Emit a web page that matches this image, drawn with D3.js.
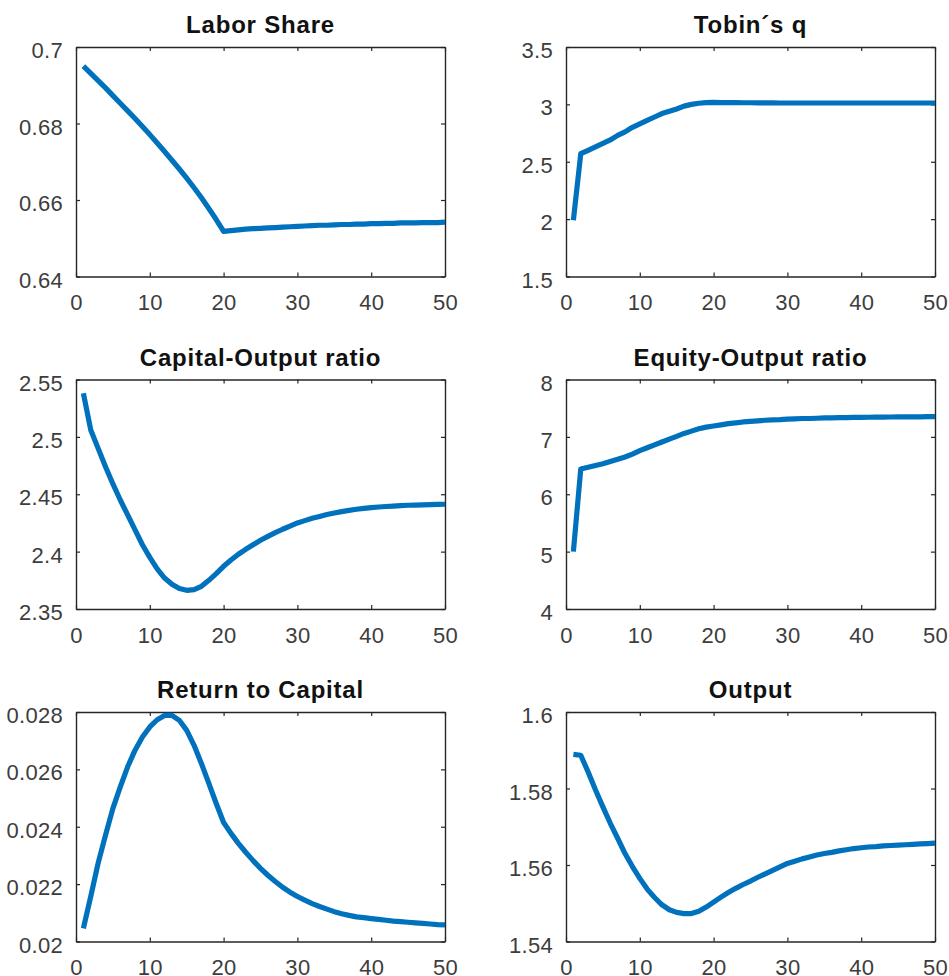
<!DOCTYPE html>
<html>
<head>
<meta charset="utf-8">
<script src="https://cdn.jsdelivr.net/npm/d3@7"></script>
<style>
  html, body { margin: 0; padding: 0; background: #fff; }
  svg { display: block; font-family: "Liberation Sans", Arial, Helvetica, sans-serif; }
</style>
</head>
<body>
<svg id="fig" width="949" height="976"></svg>
<script>
// Simulation periods
const periods = d3.range(1, 51);

// Series (one value per period)
const laborShare = [0.6950,0.6931,0.6912,0.6893,0.6873,0.6853,0.6833,0.6813,0.6792,0.6771,
  0.6749,0.6727,0.6704,0.6681,0.6657,0.6632,0.6606,0.6578,0.6549,0.6518,
  0.6520,0.6522,0.6524,0.6525,0.6526,0.6527,0.6528,0.6529,0.6530,0.6531,
  0.6532,0.6533,0.6534,0.6534,0.6535,0.6536,0.6536,0.6537,0.6537,0.6538,
  0.6538,0.6539,0.6539,0.6540,0.6540,0.6540,0.6541,0.6541,0.6541,0.6542];

const tobinsQ = [1.99,2.57,2.60,2.63,2.66,2.69,2.73,2.76,2.80,2.83,
  2.86,2.89,2.92,2.94,2.96,2.985,3.00,3.01,3.016,3.017,
  3.016,3.015,3.015,3.014,3.014,3.013,3.013,3.013,3.012,3.012,
  3.012,3.012,3.012,3.012,3.012,3.012,3.012,3.012,3.012,3.012,
  3.012,3.012,3.012,3.012,3.012,3.012,3.012,3.012,3.012,3.012];

const capitalOutput = [2.538,2.506,2.490,2.474,2.459,2.445,2.432,2.419,2.406,2.395,
  2.385,2.377,2.3715,2.3678,2.3663,2.3669,2.3698,2.3750,2.3808,2.3872,
  2.3927,2.3977,2.4020,2.4060,2.4099,2.4133,2.4165,2.4195,2.4223,2.4250,
  2.4270,2.4290,2.4307,2.4323,2.4337,2.4349,2.4360,2.4369,2.4377,2.4384,
  2.4389,2.4393,2.4397,2.4401,2.4404,2.4406,2.4408,2.4410,2.4412,2.4413];

const equityOutput = [5.00,6.44,6.47,6.50,6.53,6.57,6.61,6.65,6.70,6.76,
  6.81,6.86,6.91,6.96,7.01,7.06,7.10,7.14,7.17,7.19,
  7.21,7.23,7.245,7.26,7.27,7.28,7.29,7.295,7.30,7.31,
  7.315,7.32,7.32,7.325,7.33,7.33,7.335,7.335,7.34,7.34,
  7.342,7.344,7.345,7.346,7.347,7.348,7.349,7.350,7.352,7.354];

const returnToCapital = [0.02046,0.02157,0.02273,0.02371,0.02464,0.02539,0.02609,0.02667,0.02713,0.02748,
  0.02773,0.02788,0.02788,0.02771,0.02736,0.02684,0.02620,0.02551,0.02481,0.02415,
  0.02377,0.02342,0.02311,0.02282,0.02255,0.02231,0.02209,0.02189,0.02172,0.02157,
  0.02144,0.02132,0.02122,0.02113,0.02104,0.02097,0.02091,0.02086,0.02083,0.02080,
  0.02077,0.02074,0.02071,0.02069,0.02067,0.02065,0.02063,0.02061,0.02059,0.02058];

const output = [1.5889,1.5887,1.5843,1.5796,1.5752,1.5709,1.5670,1.5630,1.5596,1.5565,
  1.5537,1.5515,1.5496,1.5483,1.5476,1.5473,1.5473,1.5479,1.5490,1.5503,
  1.5516,1.5528,1.5539,1.5549,1.5558,1.5568,1.5577,1.5586,1.5595,1.5604,
  1.5610,1.5616,1.5621,1.5626,1.5630,1.5633,1.5637,1.5640,1.5643,1.5645,
  1.5647,1.5648,1.5650,1.5651,1.5652,1.5653,1.5654,1.5655,1.5656,1.5657];

// Axis ticks
const xTicks = [0, 10, 20, 30, 40, 50];
const laborTicks = [0.64, 0.66, 0.68, 0.7];
const laborTickLabels = ["0.64", "0.66", "0.68", "0.7"];
const tobinTicks = [1.5, 2, 2.5, 3, 3.5];
const tobinTickLabels = ["1.5", "2", "2.5", "3", "3.5"];
const capitalTicks = [2.35, 2.4, 2.45, 2.5, 2.55];
const capitalTickLabels = ["2.35", "2.4", "2.45", "2.5", "2.55"];
const equityTicks = [4, 5, 6, 7, 8];
const equityTickLabels = ["4", "5", "6", "7", "8"];
const returnTicks = [0.02, 0.022, 0.024, 0.026, 0.028];
const returnTickLabels = ["0.02", "0.022", "0.024", "0.026", "0.028"];
const outputTicks = [1.54, 1.56, 1.58, 1.6];
const outputTickLabels = ["1.54", "1.56", "1.58", "1.6"];

const titles = ["Labor Share", "Tobin´s q", "Capital-Output ratio", "Equity-Output ratio", "Return to Capital", "Output"];

const panels = [
  { title: titles[0], values: laborShare, ticks: laborTicks, labels: laborTickLabels, col: 0, row: 0 },
  { title: titles[1], values: tobinsQ, ticks: tobinTicks, labels: tobinTickLabels, col: 1, row: 0 },
  { title: titles[2], values: capitalOutput, ticks: capitalTicks, labels: capitalTickLabels, col: 0, row: 1 },
  { title: titles[3], values: equityOutput, ticks: equityTicks, labels: equityTickLabels, col: 1, row: 1 },
  { title: titles[4], values: returnToCapital, ticks: returnTicks, labels: returnTickLabels, col: 0, row: 2 },
  { title: titles[5], values: output, ticks: outputTicks, labels: outputTickLabels, col: 1, row: 2 }
];

// Subplot geometry
const colLeft = [76, 566];
const colWidth = 369;
const rowTop = [47, 379.5, 712];
const rowHeight = 229.5;

const axisColor = "#262626";
const labelColor = "#3d3d3d";
const lineColor = "#0072BD";
const tickFont = 22;
const titleFont = 24;

const svg = d3.select("#fig");

panels.forEach(p => {
  const x0 = colLeft[p.col], y0 = rowTop[p.row];
  const g = svg.append("g").attr("transform", `translate(${x0},${y0})`);

  const x = d3.scaleLinear().domain([xTicks[0], xTicks[xTicks.length - 1]]).range([0, colWidth]);
  const y = d3.scaleLinear().domain([p.ticks[0], p.ticks[p.ticks.length - 1]]).range([rowHeight, 0]);

  const labelOf = v => p.labels[p.ticks.indexOf(v)];

  // Bottom axis with labels
  const gb = g.append("g").attr("transform", `translate(0,${rowHeight})`)
    .call(d3.axisBottom(x).tickValues(xTicks).tickSizeInner(-4).tickSizeOuter(0).tickPadding(18).tickFormat(d3.format("d")));
  // Left axis with labels
  const gl = g.append("g")
    .call(d3.axisLeft(y).tickValues(p.ticks).tickSizeInner(-4).tickSizeOuter(0).tickPadding(13).tickFormat(labelOf));
  // Top and right axes: ticks only (closed box)
  const gt = g.append("g")
    .call(d3.axisTop(x).tickValues(xTicks).tickSizeInner(-4).tickSizeOuter(0).tickFormat(""));
  const gr = g.append("g").attr("transform", `translate(${colWidth},0)`)
    .call(d3.axisRight(y).tickValues(p.ticks).tickSizeInner(-4).tickSizeOuter(0).tickFormat(""));

  [gb, gl, gt, gr].forEach(a => {
    a.selectAll("path.domain").attr("stroke", axisColor).attr("stroke-width", 1.4);
    a.selectAll(".tick line").attr("stroke", axisColor).attr("stroke-width", 1.2);
    a.selectAll(".tick text").attr("fill", labelColor).attr("font-size", tickFont)
      .attr("letter-spacing", "0.3px")
      .attr("font-family", "'Liberation Sans', Arial, Helvetica, sans-serif");
  });
  gl.selectAll(".tick text").attr("dy", "0.48em");

  // Series line
  const line = d3.line().x((d, i) => x(periods[i])).y(d => y(d));
  g.append("path")
    .datum(p.values)
    .attr("d", line)
    .attr("fill", "none")
    .attr("stroke", lineColor)
    .attr("stroke-width", 5.2)
    .attr("stroke-linejoin", "round")
    .attr("stroke-linecap", "butt");

  // Title
  g.append("text")
    .attr("x", colWidth / 2)
    .attr("y", -14)
    .attr("text-anchor", "middle")
    .attr("font-size", titleFont)
    .attr("font-weight", "bold")
    .attr("letter-spacing", "0.8px")
    .attr("fill", "#111")
    .text(p.title);
});
</script>
</body>
</html>
